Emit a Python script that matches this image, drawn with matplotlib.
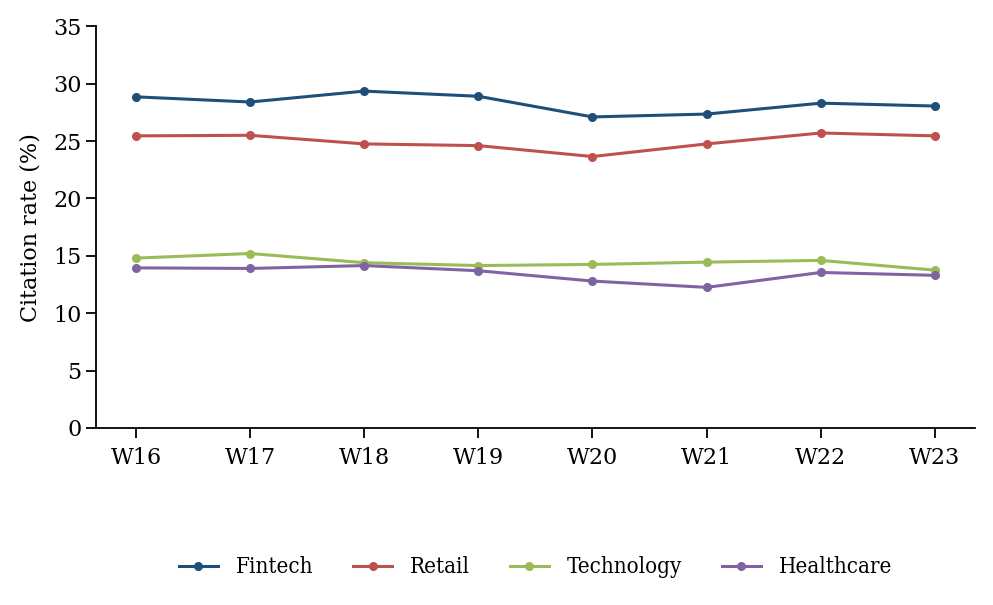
import matplotlib
matplotlib.use("Agg")
import matplotlib.pyplot as plt

weeks = ["W16", "W17", "W18", "W19", "W20", "W21", "W22", "W23"]

fintech = [28.85, 28.4, 29.35, 28.9, 27.1, 27.35, 28.3, 28.05]
retail = [25.45, 25.5, 24.75, 24.6, 23.65, 24.75, 25.7, 25.45]
technology = [14.8, 15.2, 14.4, 14.15, 14.25, 14.45, 14.6, 13.75]
healthcare = [13.95, 13.9, 14.15, 13.7, 12.8, 12.25, 13.55, 13.3]

series = [
    ("Fintech", fintech, "#1f4e79"),
    ("Retail", retail, "#c0504d"),
    ("Technology", technology, "#9bbb59"),
    ("Healthcare", healthcare, "#8064a2"),
]

plt.rcParams["font.family"] = "DejaVu Serif"

fig = plt.figure(figsize=(9.93, 6.05), dpi=100)
ax = fig.add_axes([0.0967, 0.2926, 0.885, 0.664])

x = list(range(len(weeks)))
for name, values, color in series:
    ax.plot(x, values, color=color, linewidth=2.2, marker="o", markersize=5.5, label=name)

ax.set_xticks(x)
ax.set_xticklabels(weeks)
ax.set_xlim(-0.35, len(weeks) - 1 + 0.35)
ax.set_ylim(0, 35)
ax.set_yticks(range(0, 36, 5))
ax.tick_params(labelsize=16, length=7, width=1.3)
ax.tick_params(axis="x", pad=6.5)
ax.set_ylabel("Citation rate (%)", fontsize=16, labelpad=8)

ax.spines["top"].set_visible(False)
ax.spines["right"].set_visible(False)
ax.spines["left"].set_linewidth(1.3)
ax.spines["bottom"].set_linewidth(1.3)

ax.legend(
    loc="upper center",
    bbox_to_anchor=(0.5, -0.27),
    ncol=4,
    frameon=False,
    prop={"family": "DejaVu Serif", "stretch": "condensed", "size": 16},
    columnspacing=1.8,
    handlelength=1.75,
)

fig.savefig("out.png", dpi=100)
